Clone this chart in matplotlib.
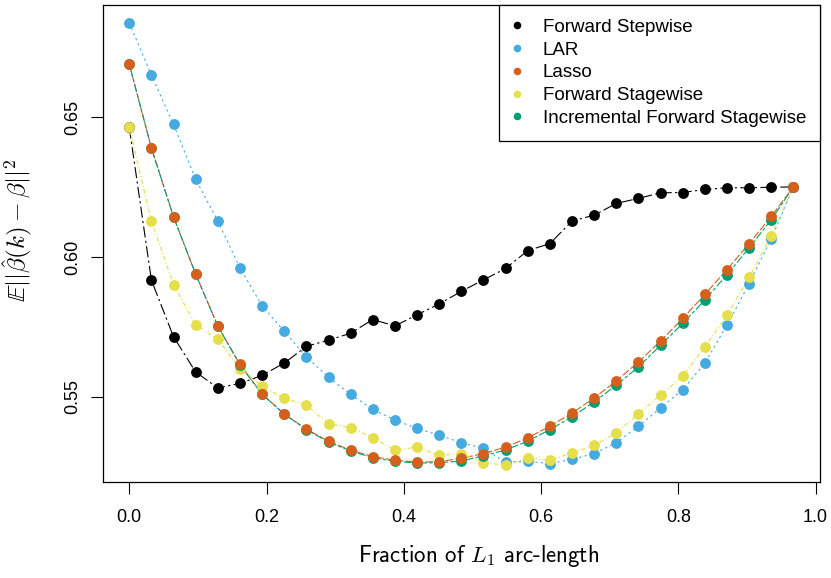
import numpy as np
import matplotlib
matplotlib.use('Agg')
import matplotlib.pyplot as plt

plt.rcParams['mathtext.fontset'] = 'cm'
plt.rcParams['axes.unicode_minus'] = False

# fraction of L1 arc-length, 31 steps
frac = [i / 31 for i in range(31)]

fwd_stepwise = [0.6464, 0.5917, 0.5714, 0.5588, 0.5531, 0.5547, 0.5576, 0.5620, 0.5680, 0.5702,
                0.5727, 0.5776, 0.5753, 0.5793, 0.5832, 0.5877, 0.5918, 0.5959, 0.6023, 0.6048,
                0.6129, 0.6150, 0.6192, 0.6210, 0.6230, 0.6231, 0.6242, 0.6248, 0.6248, 0.6250,
                0.6251]
lar = [0.6839, 0.6652, 0.6475, 0.6278, 0.6129, 0.5961, 0.5825, 0.5734, 0.5642, 0.5569,
       0.5508, 0.5454, 0.5416, 0.5386, 0.5361, 0.5335, 0.5314, 0.5265, 0.5268, 0.5260,
       0.5275, 0.5296, 0.5335, 0.5394, 0.5459, 0.5525, 0.5620, 0.5756, 0.5905, 0.6066,
       0.6251]
lasso = [0.6691, 0.6391, 0.6144, 0.5939, 0.5753, 0.5615, 0.5509, 0.5438, 0.5383, 0.5340,
         0.5308, 0.5285, 0.5272, 0.5265, 0.5267, 0.5279, 0.5296, 0.5319, 0.5352, 0.5394,
         0.5441, 0.5495, 0.5556, 0.5624, 0.5699, 0.5780, 0.5866, 0.5955, 0.6048, 0.6146,
         0.6251]
fwd_stagewise = [0.6464, 0.6129, 0.5901, 0.5756, 0.5705, 0.5600, 0.5537, 0.5494, 0.5470, 0.5402,
                 0.5389, 0.5353, 0.5308, 0.5319, 0.5289, 0.5296, 0.5263, 0.5254, 0.5279, 0.5272,
                 0.5298, 0.5325, 0.5370, 0.5439, 0.5505, 0.5573, 0.5678, 0.5791, 0.5927, 0.6075,
                 0.6251]
inc_fwd_stagewise = [0.6691, 0.6390, 0.6143, 0.5938, 0.5752, 0.5614, 0.5508, 0.5437, 0.5382, 0.5337,
                     0.5305, 0.5281, 0.5268, 0.5262, 0.5263, 0.5269, 0.5288, 0.5309, 0.5340, 0.5382,
                     0.5427, 0.5481, 0.5541, 0.5606, 0.5684, 0.5762, 0.5846, 0.5937, 0.6033, 0.6134,
                     0.6251]

labels = ['Forward Stepwise', 'LAR', 'Lasso', 'Forward Stagewise', 'Incremental Forward Stagewise']
colors = ['#000000', '#45AAE0', '#D4601B', '#E4DF4A', '#009E73']
dashes = [(10, 3, 2, 3), (2, 3), (7, 2), (1, 2, 4, 2), (3, 2, 7, 2)]
zorders = [2, 3, 6, 4, 5]   # orange sits on green, yellow on blue

fig = plt.figure(figsize=(8.31, 5.78), dpi=100)
ax = fig.add_axes([0.1236, 0.1666, 0.8632, 0.8253])

series = [fwd_stepwise, lar, lasso, fwd_stagewise, inc_fwd_stagewise]
handles = []
for k in range(5):
    ax.plot(frac, series[k], color=colors[k], lw=0.8, dashes=dashes[k], zorder=1)
    h, = ax.plot(frac, series[k], 'o', color=colors[k], ms=7.8, mec='none',
                 zorder=zorders[k], label=labels[k])
    handles.append(h)

ax.set_xlim(-0.0387, 1.0065)
ax.set_ylim(0.5195, 0.6904)
ax.set_xticks([0.0, 0.2, 0.4, 0.6, 0.8, 1.0])
ax.set_xticklabels(['0.0', '0.2', '0.4', '0.6', '0.8', '1.0'], family='Liberation Sans', fontsize=13)
ax.set_yticks([0.55, 0.60, 0.65])
ax.set_yticklabels(['0.55', '0.60', '0.65'], family='Liberation Sans', fontsize=13,
                   rotation=90, va='center')
ax.tick_params(direction='out', length=8.5, width=0.8)
ax.tick_params(axis='x', pad=11)
ax.tick_params(axis='y', pad=7)
for s in ax.spines.values():
    s.set_linewidth(0.9)

ax.set_xlabel(r'Fraction of $L_1$ arc-length', family='cmss10', fontsize=16.5)
ax.xaxis.set_label_coords(0.524, -0.128)
ax.set_ylabel(r'$\mathbb{E}||\hat{\beta}(k) - \beta||^2$', fontsize=18)
ax.yaxis.set_label_coords(-0.094, 0.528)

leg = ax.legend(handles, labels, loc='upper right', borderaxespad=0,
                fancybox=False, edgecolor='black', framealpha=1,
                prop={'family': 'Liberation Sans', 'size': 13.5},
                handlelength=0.35, handletextpad=1.2, labelspacing=0.3,
                borderpad=0.75, markerscale=0.7)
leg.get_frame().set_linewidth(0.9)

fig.savefig('out.png', dpi=100)
